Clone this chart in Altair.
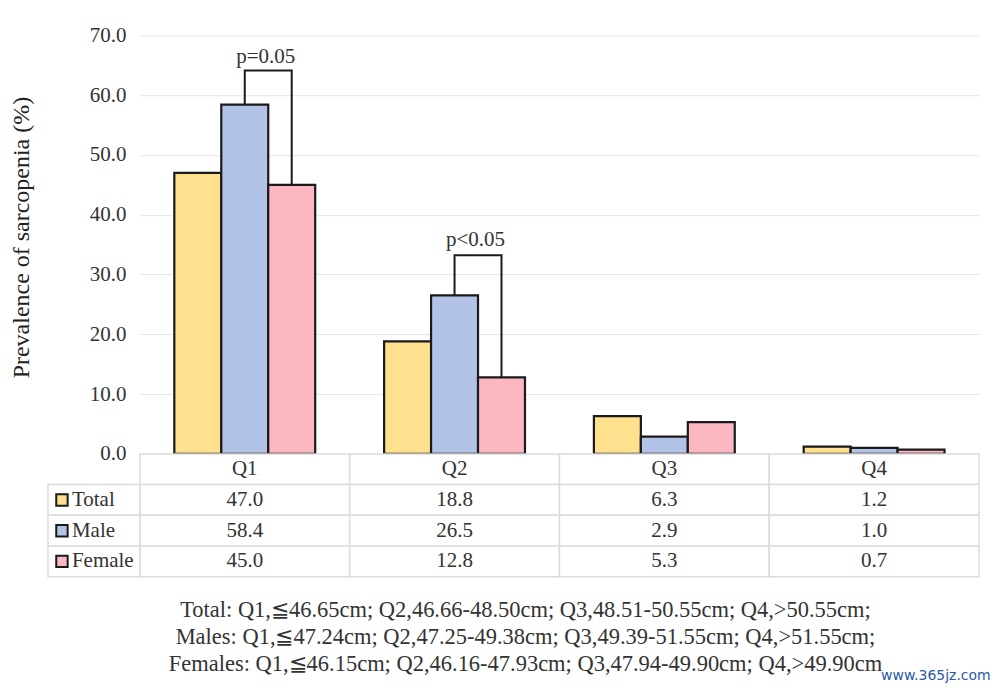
import altair as alt
import pandas as pd

quartiles = ["Q1", "Q2", "Q3", "Q4"]
series = ["Total", "Male", "Female"]
total = [47.0, 18.8, 6.3, 1.2]
male = [58.4, 26.5, 2.9, 1.0]
female = [45.0, 12.8, 5.3, 0.7]
colors = ["#FFE08E", "#B3C3E8", "#FDB7C1"]

bracket_quartiles = ["Q1", "Q2"]
bracket_tops = [64.1, 33.2]
bracket_labels = ["p=0.05", "p<0.05"]
bracket_label_y = [66.3, 35.8]

footnotes = [
    "Total: Q1,\u226646.65cm; Q2,46.66-48.50cm; Q3,48.51-50.55cm; Q4,>50.55cm;",
    "Males: Q1,\u226647.24cm; Q2,47.25-49.38cm; Q3,49.39-51.55cm; Q4,>51.55cm;",
    "Females: Q1,\u226646.15cm; Q2,46.16-47.93cm; Q3,47.94-49.90cm; Q4,>49.90cm",
]
watermark = "www.365jz.com"

FONT = "Liberation Serif"
TXT = "#333333"
W = 840
H = 419
ROW_H = 30.75
GRID = "#dcdcdc"

values = {"Total": total, "Male": male, "Female": female}
bars = pd.DataFrame(
    [{"Quartile": q, "Series": s, "Value": values[s][i]}
     for i, q in enumerate(quartiles) for s in series]
)

# bracket paths
br_rows = []
for b, q in enumerate(bracket_quartiles):
    i = quartiles.index(q)
    pts = [("Male", male[i]), ("Male", bracket_tops[b]),
           ("Female", bracket_tops[b]), ("Female", female[i])]
    for k, (s, v) in enumerate(pts):
        br_rows.append({"Quartile": q, "Series": s, "Value": v, "order": k, "bid": b})
brackets = pd.DataFrame(br_rows)
br_labels = pd.DataFrame({"Quartile": bracket_quartiles, "Value": bracket_label_y,
                          "label": bracket_labels})

color_scale = alt.Scale(domain=series, range=colors)
x_scale = alt.Scale(domain=quartiles, paddingInner=0, paddingOuter=0)
xoff_scale = alt.Scale(domain=series, paddingInner=0, paddingOuter=0.734)
y_scale = alt.Scale(domain=[0, 70], nice=False)

base = alt.Chart(bars)

bar_layer = base.mark_bar(stroke="#1a1a1a", strokeWidth=2.2).encode(
    x=alt.X("Quartile:N", scale=x_scale, sort=quartiles, axis=None),
    xOffset=alt.XOffset("Series:N", scale=xoff_scale, sort=series),
    y=alt.Y("Value:Q", scale=y_scale,
            axis=alt.Axis(title="Prevalence of sarcopenia (%)", values=[0, 10, 20, 30, 40, 50, 60, 70],
                          format=".1f", domain=False, ticks=False, grid=True,
                          gridColor="#e6e6e6", labelFont=FONT, labelFontSize=21,
                          labelColor=TXT, labelPadding=14, titleFont=FONT,
                          titleFontSize=24, titleFontWeight="normal", titleColor="#222",
                          titlePadding=56, titleY=202)),
    fill=alt.Fill("Series:N", scale=color_scale, legend=None),
)

bracket_layer = alt.Chart(brackets).mark_line(color="#1a1a1a", strokeWidth=2).encode(
    x=alt.X("Quartile:N", scale=x_scale, sort=quartiles),
    xOffset=alt.XOffset("Series:N", scale=xoff_scale, sort=series),
    y=alt.Y("Value:Q", scale=y_scale),
    order="order:Q",
    detail="bid:N",
)

bracket_text = alt.Chart(br_labels).mark_text(
    font=FONT, fontSize=21, color=TXT, dx=21
).encode(
    x=alt.X("Quartile:N", scale=x_scale, sort=quartiles),
    y=alt.Y("Value:Q", scale=y_scale),
    text="label:N",
)

top = alt.layer(bar_layer, bracket_layer, bracket_text).properties(width=W, height=H)

# table
row_names = ["hdr"] + series
tab_rows = []
for i, q in enumerate(quartiles):
    tab_rows.append({"Quartile": q, "Row": "hdr", "text": q})
    for s in series:
        tab_rows.append({"Quartile": q, "Row": s, "text": f"{values[s][i]:.1f}"})
table_df = pd.DataFrame(tab_rows)
labels_df = pd.DataFrame({"Row": series, "Series": series})

y_tab = alt.Scale(domain=row_names, paddingInner=0, paddingOuter=0)

cells = alt.Chart(table_df).mark_rect(fill="white", stroke=GRID, strokeWidth=1.5).encode(
    x=alt.X("Quartile:N", scale=x_scale, sort=quartiles, axis=None),
    y=alt.Y("Row:N", scale=y_tab, axis=None),
)
cell_text = alt.Chart(table_df).mark_text(font=FONT, fontSize=21, color=TXT).encode(
    x=alt.X("Quartile:N", scale=x_scale, sort=quartiles, axis=None),
    y=alt.Y("Row:N", scale=y_tab, axis=None),
    text="text:N",
)
label_cells = alt.Chart(labels_df).mark_rect(fill="white", stroke=GRID, strokeWidth=1.5).encode(
    x=alt.value(-92), x2=alt.value(0),
    y=alt.Y("Row:N", scale=y_tab, axis=None),
)
label_squares = alt.Chart(labels_df).mark_point(
    shape="square", filled=True, size=130, stroke="#1a1a1a", strokeWidth=2, opacity=1
).encode(
    x=alt.value(-78),
    y=alt.Y("Row:N", scale=y_tab, axis=None),
    fill=alt.Fill("Series:N", scale=color_scale, legend=None),
)
label_text = alt.Chart(labels_df).mark_text(
    font=FONT, fontSize=21, color=TXT, align="left"
).encode(
    x=alt.value(-68),
    y=alt.Y("Row:N", scale=y_tab, axis=None),
    text="Row:N",
)
foot = alt.Chart(pd.DataFrame({"t": ["\n".join(footnotes)]})).mark_text(
    font=FONT, fontSize=22.5, color=TXT, align="center", baseline="top",
    lineBreak="\n", lineHeight=27
).encode(x=alt.value(386), y=alt.value(145), text="t:N")
wm = alt.Chart(pd.DataFrame({"t": [watermark]})).mark_text(
    font="DejaVu Sans", fontSize=14, color="#2b5aa6", align="left"
).encode(x=alt.value(742), y=alt.value(222), text="t:N")

table = alt.layer(cells, cell_text, label_cells, label_squares, label_text, foot, wm).properties(
    width=W, height=ROW_H * 4
)

chart = alt.vconcat(top, table, spacing=0, bounds="flush").properties(
    padding={"left": 0, "top": 15, "right": 0, "bottom": 0},
).configure_view(stroke="transparent").resolve_scale(fill="shared")

chart.save("out.html", embed_options={"renderer": "svg", "actions": False})
